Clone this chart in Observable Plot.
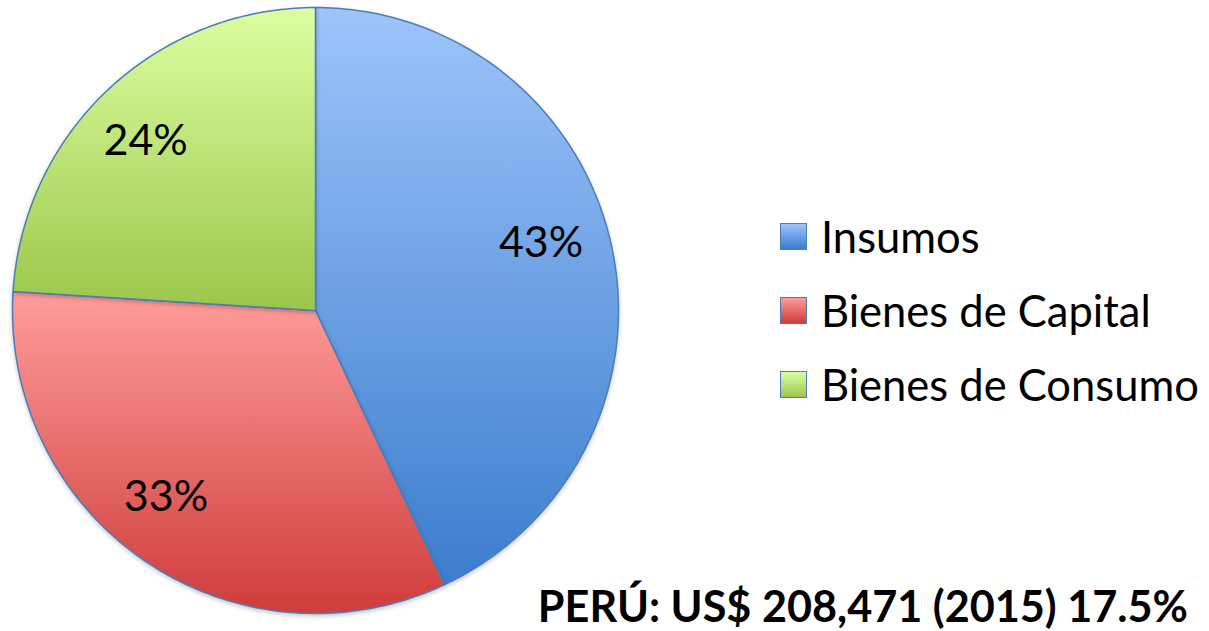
<!DOCTYPE html>
<html><head><meta charset="utf-8">
<script src="https://cdn.jsdelivr.net/npm/d3@7"></script>
<script src="https://cdn.jsdelivr.net/npm/@observablehq/plot@0.6"></script>
<style>
body{margin:0;background:#fff;font-family:Lato,sans-serif}
#wrap{position:relative;width:1209px;height:631px;overflow:hidden}
#chart{position:absolute;left:0;top:0}
#chart text{font-family:Lato,sans-serif !important}
#chart g[aria-label="line"]{filter:drop-shadow(0px 2px 2px rgba(0,0,0,0.22))}
.leg{position:absolute;left:780px;display:flex;align-items:center;font-size:43.5px;line-height:52px;color:#000;white-space:nowrap}
.sw{width:27px;height:27px;box-sizing:border-box;border:1px solid #4a7ebb;margin-right:14px;flex:none}
#cap{position:absolute;right:21px;top:579px;font-weight:bold;font-size:43.2px;line-height:52px;white-space:nowrap}
</style></head><body><div id="wrap"><div id="chart"></div><div id="legend"></div><div id="cap"></div></div>
<script>
const categories = ["Insumos", "Bienes de Capital", "Bienes de Consumo"];
const shares = [43, 33, 24];
const labels = ["43%", "33%", "24%"];
const caption = "PERÚ: US$ 208,471 (2015) 17.5%";
const gradTop = ["#9ec4fb", "#ff9d9b", "#dcfea1"];
const gradBottom = ["#3b7dcd", "#cf3c3b", "#9bc64a"];

const arcs = d3.pie().sort(null).value(d => d)(shares);
const slices = arcs.map((a) => {
  const n = Math.max(2, Math.ceil((a.endAngle - a.startAngle) / (Math.PI / 180)));
  const pts = [{x: 0, y: 0}];
  for (let k = 0; k <= n; k++) {
    const t = a.startAngle + (a.endAngle - a.startAngle) * k / n;
    pts.push({x: Math.sin(t), y: Math.cos(t)});
  }
  pts.push({x: 0, y: 0});
  return pts;
});
const labelData = arcs.map((a, i) => {
  const m = (a.startAngle + a.endAngle) / 2;
  return {x: 0.79 * Math.sin(m), y: 0.79 * Math.cos(m), t: labels[i]};
});
// small pixel nudges matching the spreadsheet's "best fit" label placement
const nudge = [[-8, -15], [-15, -11], [-6, 5]];

const ns = "http://www.w3.org/2000/svg";
function defsMark() {
  const defs = document.createElementNS(ns, "defs");
  gradTop.forEach((c, i) => {
    const g = document.createElementNS(ns, "linearGradient");
    g.setAttribute("id", "g" + i);
    g.setAttribute("x1", "0"); g.setAttribute("y1", "0");
    g.setAttribute("x2", "0"); g.setAttribute("y2", "1");
    const s1 = document.createElementNS(ns, "stop");
    s1.setAttribute("offset", "0"); s1.setAttribute("stop-color", c);
    const s2 = document.createElementNS(ns, "stop");
    s2.setAttribute("offset", "1"); s2.setAttribute("stop-color", gradBottom[i]);
    g.append(s1, s2);
    defs.append(g);
  });
  return defs;
}

const plot = Plot.plot({
  width: 640, height: 631,
  marginLeft: 12, marginRight: 22, marginTop: 7, marginBottom: 18,
  x: {domain: [-1, 1], axis: null},
  y: {domain: [-1, 1], axis: null},
  style: {fontFamily: "Lato, sans-serif", overflow: "visible", background: "transparent"},
  marks: [
    defsMark,
    ...slices.map((pts, i) => Plot.line(pts, {x: "x", y: "y", fill: `url(#g${i})`, stroke: "#4a7ebb", strokeWidth: 1.5, strokeLinejoin: "round"})),
    ...labelData.map((d, i) => Plot.text([d], {x: "x", y: "y", text: "t", fontSize: 43, fontFamily: "Lato", fill: "#000", dx: nudge[i][0], dy: nudge[i][1]}))
  ]
});
document.getElementById("chart").append(plot);

const centers = [236, 310, 384];
const leg = document.getElementById("legend");
categories.forEach((c, i) => {
  const d = document.createElement("div");
  d.className = "leg";
  d.style.top = (centers[i] - 26) + "px";
  const sw = document.createElement("div");
  sw.className = "sw";
  sw.style.background = `linear-gradient(${gradTop[i]}, ${gradBottom[i]})`;
  const t = document.createElement("span");
  t.textContent = c;
  d.append(sw, t);
  leg.append(d);
});
document.getElementById("cap").textContent = caption;
</script></body></html>
